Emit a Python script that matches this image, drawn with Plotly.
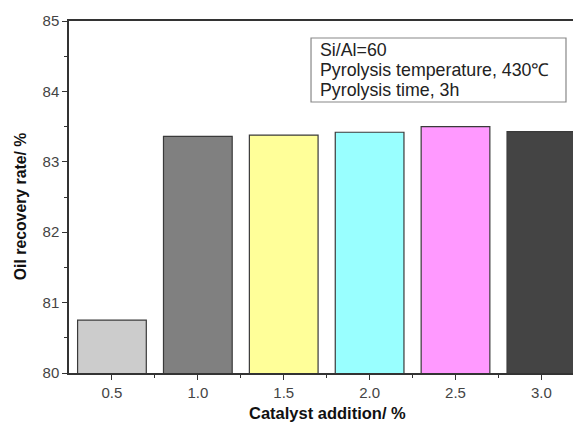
import plotly.graph_objects as go

catalyst = [0.5, 1.0, 1.5, 2.0, 2.5, 3.0]
tick_labels = ["0.5", "1.0", "1.5", "2.0", "2.5", "3.0"]
recovery = [80.75, 83.36, 83.38, 83.42, 83.50, 83.43]
colors = ["#CCCCCC", "#808080", "#FFFF99", "#99FFFF", "#FF99FF", "#444444"]
info_lines = ["Si/Al=60", "Pyrolysis temperature, 430℃", "Pyrolysis time, 3h"]
x_title = "Catalyst addition/ %"
y_title = "Oil recovery rate/ %"

fig = go.Figure()
fig.add_trace(go.Bar(
    x=catalyst, y=recovery, width=0.4,
    marker=dict(color=colors, line=dict(color="#3a3a3a", width=1.2)),
    showlegend=False,
))

font_family = "Liberation Sans, Arial, sans-serif"
fig.update_layout(
    width=573, height=422,
    margin=dict(l=69, r=0, t=21, b=49),
    paper_bgcolor="white", plot_bgcolor="white",
    font=dict(family=font_family, color="#444444"),
    xaxis=dict(
        range=[0.25, 3.184], tickmode="array", tickvals=catalyst, ticktext=tick_labels,
        ticks="outside", ticklen=5, tickwidth=1.2, tickcolor="#333333",
        showline=True, linecolor="#333333", linewidth=1.5, mirror=True,
        showgrid=False, zeroline=False,
        tickfont=dict(size=15, color="#444444"),
        minor=dict(tickmode="array", tickvals=[0.75, 1.25, 1.75, 2.25, 2.75],
                   ticks="outside", ticklen=3, tickcolor="#333333", showgrid=False),
    ),
    yaxis=dict(
        range=[80, 85], tickmode="linear", tick0=80, dtick=1,
        ticks="outside", ticklen=5, tickwidth=1.2, tickcolor="#333333",
        showline=True, linecolor="#333333", linewidth=1.5,
        showgrid=False, zeroline=False,
        tickfont=dict(size=15, color="#444444"),
        minor=dict(dtick=0.5, ticks="outside", ticklen=3, tickcolor="#333333", showgrid=False),
    ),
)

# Axis titles
fig.add_annotation(xref="paper", yref="paper", x=0.512, y=-0.1136,
                   xanchor="center", yanchor="middle", showarrow=False,
                   text="<b>" + x_title + "</b>",
                   font=dict(size=16.5, color="#111111", family=font_family))
fig.add_annotation(xref="paper", yref="paper", x=-0.0958, y=0.473,
                   xanchor="center", yanchor="middle", showarrow=False, textangle=-90,
                   text="<b>" + y_title + "</b>",
                   font=dict(size=15.8, color="#111111", family=font_family))

# Info box
fig.add_shape(type="rect", xref="paper", yref="paper",
              x0=0.4802, x1=0.9861, y0=0.7699, y1=0.9517,
              line=dict(color="#888888", width=1.2), fillcolor="white", layer="above")
line_y = [0.9176, 0.8594, 0.8030]
for txt, yy in zip(info_lines, line_y):
    fig.add_annotation(xref="paper", yref="paper", x=0.494, y=yy,
                       xanchor="left", yanchor="middle", text=txt, showarrow=False,
                       font=dict(size=17.8, color="#222222", family=font_family))

fig.write_html("out.html")
